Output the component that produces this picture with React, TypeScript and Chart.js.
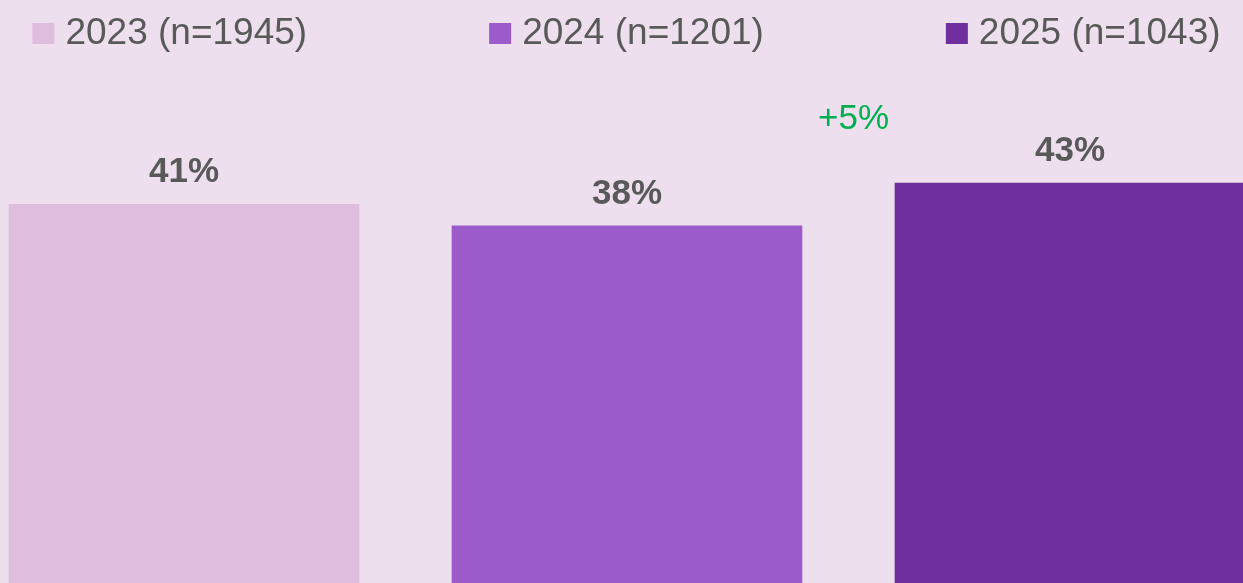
import React, { useEffect, useRef } from "react";
import { Chart, registerables } from "chart.js";

Chart.register(...registerables);

const categories = ["2023", "2024", "2025"];
const sampleSizes = [1945, 1201, 1043];
const values = [40.7, 38.4, 43.0];
const valueLabels = ["41%", "38%", "43%"];
const changeLabel = "+5%";

const barColors = ["#DFBDDC", "#9B5BCB", "#6F2F9F"];
const bgColor = "#EEDFEE";
const textColor = "#595959";
const changeColor = "#00B050";
const FONT = "'Liberation Sans', Arial, sans-serif";

const W = 1243;
const H = 583;

const overlayPlugin = {
  id: "overlay",
  beforeDraw(chart: any) {
    const ctx = chart.ctx;
    ctx.save();
    ctx.fillStyle = bgColor;
    ctx.fillRect(0, 0, chart.width, chart.height);
    ctx.restore();
  },
  afterDatasetsDraw(chart: any) {
    const ctx = chart.ctx;
    const xs = chart.scales.x;
    const ys = chart.scales.y;
    ctx.save();
    // value labels
    ctx.font = `bold 35px ${FONT}`;
    ctx.fillStyle = textColor;
    ctx.textAlign = "center";
    ctx.textBaseline = "alphabetic";
    values.forEach((v, i) => {
      const x = xs.getPixelForValue(i);
      const y = ys.getPixelForValue(v);
      ctx.fillText(valueLabels[i], x, y - 22);
    });
    // change annotation
    ctx.font = `35px ${FONT}`;
    ctx.fillStyle = changeColor;
    const cx = (xs.getPixelForValue(1) + xs.getPixelForValue(2)) / 2 + 5;
    const cy = ys.getPixelForValue(values[2]) - 54;
    ctx.fillText(changeLabel, cx, cy);
    // legend
    ctx.font = `37px ${FONT}`;
    ctx.textAlign = "left";
    const box = 22;
    const boxGap = 11;
    const itemGap = 182;
    const texts = categories.map((c, i) => `${c} (n=${sampleSizes[i]})`);
    const widths = texts.map((t) => box + boxGap + ctx.measureText(t).width);
    const total = widths.reduce((a, b) => a + b, 0) + itemGap * (texts.length - 1);
    let x = 626.5 - total / 2;
    const baseline = 44;
    texts.forEach((t, i) => {
      ctx.fillStyle = barColors[i];
      ctx.fillRect(x, baseline - 21, box, 21);
      ctx.fillStyle = textColor;
      ctx.fillText(t, x + box + boxGap, baseline);
      x += widths[i] + itemGap;
    });
    ctx.restore();
  },
};

export default function App() {
  const ref = useRef<HTMLCanvasElement | null>(null);

  useEffect(() => {
    document.body.style.margin = "0";
    document.body.style.background = bgColor;
    if (!ref.current) return;
    const xMin = -184 / 443;
    const xMax = xMin + W / 443;
    const chart = new Chart(ref.current, {
      type: "bar",
      data: {
        datasets: [
          {
            label: "Share",
            data: categories.map((_, i) => ({ x: i, y: values[i] })),
            backgroundColor: barColors,
            borderWidth: 0,
            barThickness: 350,
          },
        ],
      },
      options: {
        responsive: false,
        animation: false,
        maintainAspectRatio: false,
        layout: { padding: 0 },
        plugins: {
          legend: { display: false },
          tooltip: { enabled: false },
        },
        scales: {
          x: {
            type: "linear",
            min: xMin,
            max: xMax,
            offset: false,
            display: false,
            grid: { offset: false },
          },
          y: { min: 0, max: 62.67, display: false },
        },
      },
      plugins: [overlayPlugin],
    });
    return () => chart.destroy();
  }, []);

  return (
    <div style={{ width: W, height: H, background: bgColor }}>
      <canvas ref={ref} width={W} height={H} style={{ display: "block" }} />
    </div>
  );
}
